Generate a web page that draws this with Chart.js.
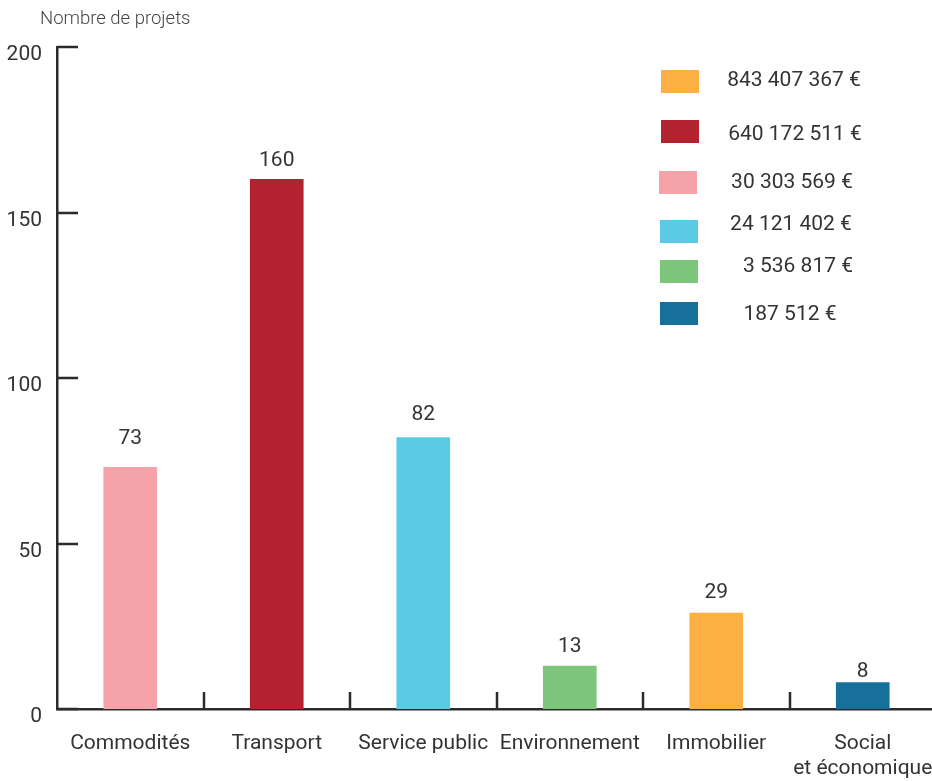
<!DOCTYPE html>
<html lang="fr">
<head>
<meta charset="utf-8">
<title>Nombre de projets par secteur</title>
<script src="https://cdn.jsdelivr.net/npm/chart.js@4/dist/chart.umd.min.js"></script>
<style>
  html, body { margin: 0; padding: 0; background: #fff; overflow: hidden; }
  #wrap { width: 936px; height: 781px; }
</style>
</head>
<body>
<div id="wrap"><canvas id="c" width="936" height="781"></canvas></div>
<script>
// Secteurs et nombre de projets
const categories = ['Commodités', 'Transport', 'Service public', 'Environnement', 'Immobilier', ['Social', 'et économique']];
const projets = [73, 160, 82, 13, 29, 8];
const couleurs = ['#F5A3A8', '#B3222F', '#5BCAE5', '#7DC57A', '#FBB041', '#176F9C'];

// Montants investis (légende)
const montants = ['843 407 367 €', '640 172 511 €', '30 303 569 €', '24 121 402 €', '3 536 817 €', '187 512 €'];
const couleursMontants = ['#FBB041', '#B3222F', '#F5A3A8', '#5BCAE5', '#7DC57A', '#176F9C'];

// Graduations de l'axe vertical
const yTicks = [0, 50, 100, 150, 200];

const TEXT = '#333333';
const AXIS = '#2b2b2b';
const FONT = 'Roboto, "Noto Sans", "Liberation Sans", sans-serif';

// Petites marques des axes : vers l'intérieur sur l'axe vertical, séparateurs sur l'axe horizontal
const axisMarks = {
  id: 'axisMarks',
  afterDatasetsDraw(chart) {
    const { ctx, chartArea: a, scales: { x, y } } = chart;
    ctx.save();
    ctx.strokeStyle = AXIS;
    ctx.lineWidth = 2.5;
    ctx.beginPath();
    yTicks.forEach(v => {
      const py = Math.round(y.getPixelForValue(v));
      ctx.moveTo(a.left, py);
      ctx.lineTo(a.left + 21, py);
    });
    for (let i = 1; i < categories.length; i++) {
      const px = Math.round((x.getPixelForValue(i - 1) + x.getPixelForValue(i)) / 2);
      ctx.moveTo(px, a.bottom);
      ctx.lineTo(px, a.bottom - 17);
    }
    ctx.stroke();
    ctx.restore();
  }
};

// Valeur affichée au-dessus de chaque barre
const valueLabels = {
  id: 'valueLabels',
  afterDatasetsDraw(chart, args, opts) {
    const { ctx } = chart;
    const meta = chart.getDatasetMeta(0);
    ctx.save();
    ctx.font = '21px ' + FONT;
    ctx.fillStyle = TEXT;
    ctx.textAlign = 'center';
    ctx.textBaseline = 'alphabetic';
    meta.data.forEach((bar, i) => {
      ctx.fillText(String(projets[i]), bar.x, bar.y - opts.gaps[i]);
    });
    ctx.restore();
  }
};

// Légende des montants, dans le coin supérieur droit
const montantLegend = {
  id: 'montantLegend',
  afterDraw(chart, args, opts) {
    const { ctx } = chart;
    ctx.save();
    ctx.font = '21px ' + FONT;
    ctx.textAlign = 'center';
    ctx.textBaseline = 'middle';
    montants.forEach((m, i) => {
      const r = opts.rows[i];
      ctx.fillStyle = couleursMontants[i];
      ctx.fillRect(r.bx, r.by - 11.5, 38, 23);
      ctx.fillStyle = TEXT;
      ctx.fillText(m, r.tx, r.ty);
    });
    ctx.restore();
  }
};

// Titre de l'axe vertical
const axisTitle = {
  id: 'axisTitle',
  afterDraw(chart) {
    const { ctx } = chart;
    ctx.save();
    ctx.font = '300 18.5px ' + FONT;
    ctx.fillStyle = '#444444';
    ctx.textAlign = 'left';
    ctx.textBaseline = 'alphabetic';
    ctx.fillText('Nombre de projets', 40, 24);
    ctx.restore();
  }
};

new Chart(document.getElementById('c'), {
  type: 'bar',
  data: {
    labels: categories,
    datasets: [{
      data: projets,
      backgroundColor: couleurs,
      borderWidth: 0,
      barThickness: 53
    }]
  },
  options: {
    responsive: false,
    animation: false,
    devicePixelRatio: 1,
    layout: { padding: { top: 47, right: 0, left: 0, bottom: 0 } },
    plugins: {
      legend: { display: false },
      tooltip: { enabled: false },
      valueLabels: { gaps: [23, 13, 18, 14, 15, 6] },
      montantLegend: {
        rows: [
          { bx: 661, by: 81.5,  tx: 794, ty: 81 },
          { bx: 661, by: 131.5, tx: 795, ty: 135 },
          { bx: 659, by: 182.5, tx: 792, ty: 183 },
          { bx: 660, by: 231.5, tx: 791, ty: 225 },
          { bx: 660, by: 271.5, tx: 798, ty: 267 },
          { bx: 660, by: 313.5, tx: 790, ty: 315 }
        ]
      }
    },
    scales: {
      x: {
        grid: { display: false, drawTicks: false },
        border: { display: true, color: AXIS, width: 2.5 },
        ticks: {
          color: TEXT,
          font: { family: FONT, size: 21, lineHeight: 1.2 },
          padding: 22,
          maxRotation: 0,
          autoSkip: false
        },
        afterFit(s) {
          s.height = 72;
          s.paddingLeft = 0;
          s.paddingRight = 0;
        }
      },
      y: {
        min: 0,
        max: 200,
        afterBuildTicks(s) { s.ticks = yTicks.map(v => ({ value: v })); },
        grid: { display: false, drawTicks: false },
        border: { display: true, color: AXIS, width: 2.5 },
        ticks: {
          color: TEXT,
          font: { family: FONT, size: 21 },
          padding: 15,
          labelOffset: 8
        },
        afterFit(s) { s.width = 57; }
      }
    }
  },
  plugins: [axisMarks, valueLabels, montantLegend, axisTitle]
});
</script>
</body>
</html>
